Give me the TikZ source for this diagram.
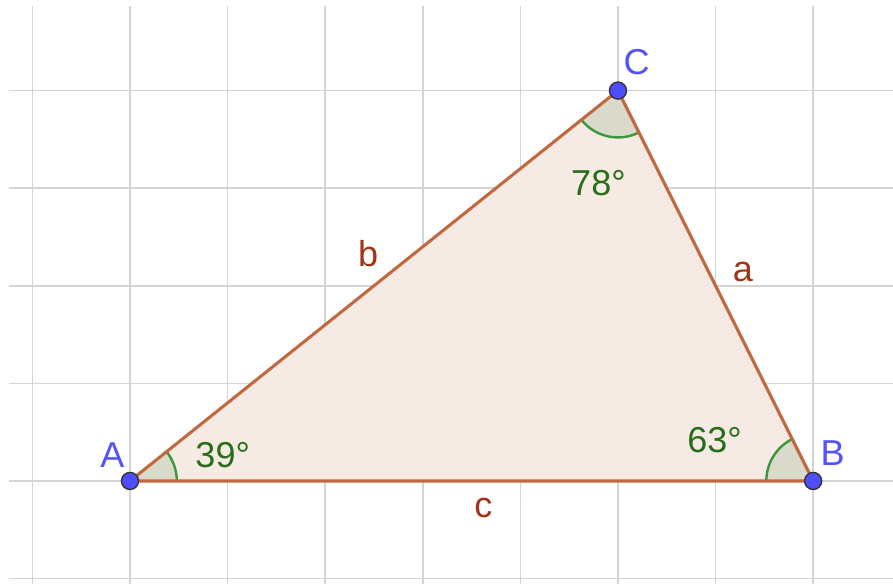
\documentclass[tikz,border=0pt]{standalone}
\usepackage{fontspec}
\setmainfont{Liberation Sans}
\usetikzlibrary{angles}
\definecolor{gridCol}{RGB}{212,212,212}
\definecolor{sideCol}{RGB}{192,104,64}
\definecolor{fillCol}{RGB}{246,235,228}
\definecolor{sideLab}{RGB}{160,52,22}
\definecolor{angFill}{RGB}{218,218,204}
\definecolor{angArc}{RGB}{60,150,60}
\definecolor{angLab}{RGB}{40,110,25}
\definecolor{ptCol}{RGB}{78,78,255}
\definecolor{ptLab}{RGB}{82,82,255}
\tikzset{
  gridline/.style={draw=gridCol,line width=0.45pt},
  side/.style={draw=sideCol,line width=0.9pt,line join=round},
  pt/.style={circle,draw=black!80,line width=0.4pt,fill=ptCol,inner sep=0pt,minimum size=1.75mm},
  ptlab/.style={text=ptLab,font=\fontsize{10.5}{12}\selectfont},
  slab/.style={text=sideLab,font=\fontsize{10.5}{12}\selectfont},
  alab/.style={text=angLab,font=\fontsize{10.5}{12}\selectfont},
  ang/.style={draw=angArc,fill=angFill,line width=0.7pt,angle radius=4.8mm},
}
\begin{document}
\begin{tikzpicture}
    \useasboundingbox (-1.332,-1.055) rectangle (7.818,4.928);
    % grid
    \foreach \x in {-1,...,7} \draw[gridline] (\x,-1.06) -- (\x,4.867);
    \foreach \y in {-1,...,4} \draw[gridline] (-1.24,\y) -- (7.82,\y);
    % vertices
    \coordinate (A) at (0,0);
    \coordinate (B) at (7,0);
    \coordinate (C) at (5,4);
    % triangle area
    \fill[fillCol] (A) -- (B) -- (C) -- cycle;
    % angles
    \pic[ang] {angle=B--A--C};
    \pic[ang] {angle=A--C--B};
    \pic[ang] {angle=C--B--A};
    % sides
    \draw[side] (A) -- (B) -- (C) -- cycle;
    % points
    \node[pt] (pA) at (A) {};
    \node[pt] (pB) at (B) {};
    \node[pt] (pC) at (C) {};
    % labels
    \node[ptlab] (lA) at (-0.18,0.27) {A};
    \node[ptlab] (lB) at (7.2,0.29) {B};
    \node[ptlab] (lC) at (5.19,4.29) {C};
    \node[alab] (aA) at (0.95,0.26) {39°};
    \node[alab] (aC) at (4.8,3.05) {78°};
    \node[alab] (aB) at (5.99,0.42) {63°};
    \node[slab] (sb) at (2.44,2.33) {b};
    \node[slab] (sa) at (6.28,2.14) {a};
    \node[slab] (sc) at (3.62,-0.28) {c};
\end{tikzpicture}
\end{document}
